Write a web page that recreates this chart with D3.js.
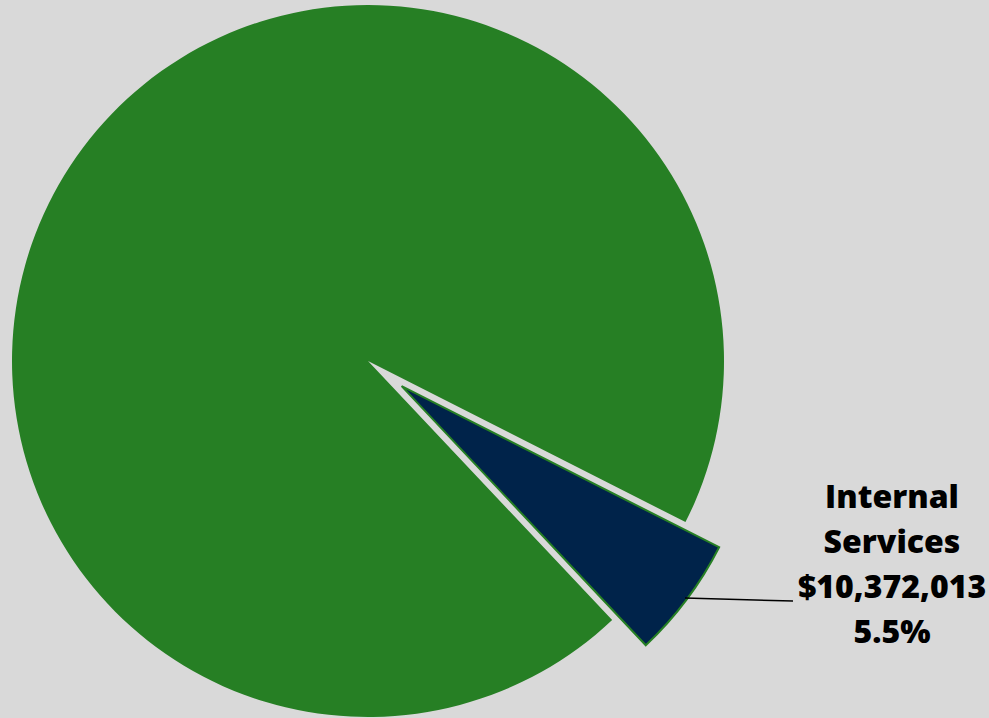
<!DOCTYPE html>
<html>
<head>
<meta charset="utf-8">
<script src="https://cdn.jsdelivr.net/npm/d3@7"></script>
<style>
  html, body { margin: 0; padding: 0; background: #d9d9d9; }
  svg { display: block; }
</style>
</head>
<body>
<div id="container"></div>
<script>
// data
var categories = ["Internal Services", "Other"];
var amounts = [10372013, 178210000];
var sliceColors = ["#00234a", "#267f24"];
var exploded = [true, false];

var width = 989;
var height = 718;
var cx = 368, cy = 361, radius = 356;
var explodeBy = 42;

var svg = d3.select("#container").append("svg")
  .attr("width", width).attr("height", height);

svg.append("rect").attr("width", width).attr("height", height).attr("fill", "#d9d9d9");

var total = d3.sum(amounts);
var data = categories.map(function(c, i) {
  return { name: c, value: amounts[i], color: sliceColors[i], explode: exploded[i] };
});

var start = 116.9 * Math.PI / 180;
var pie = d3.pie()
  .sort(null)
  .value(function(d) { return d.value; })
  .startAngle(start)
  .endAngle(start + 2 * Math.PI);

var arc = d3.arc().innerRadius(0).outerRadius(radius);

var g = svg.append("g").attr("transform", "translate(" + cx + "," + cy + ")");

var arcs = pie(data);

g.selectAll("path")
  .data(arcs).enter().append("path")
  .attr("d", arc)
  .attr("fill", function(d) { return d.data.color; })
  .attr("stroke", "#267f24")
  .attr("stroke-width", function(d) { return d.data.explode ? 2 : 0; })
  .attr("stroke-linejoin", "miter")
  .attr("transform", function(d) {
    if (!d.data.explode) return null;
    var a = (d.startAngle + d.endAngle) / 2;
    return "translate(" + (Math.sin(a) * explodeBy) + "," + (-Math.cos(a) * explodeBy) + ")";
  });

// label for the exploded slice
var fmt = d3.format("$,");
var pct = d3.format(".1%");
var lab = arcs[0];
var labelX = 892;
var lines = ["Internal", "Services", fmt(lab.data.value), pct(lab.data.value / total)];

var text = svg.append("text")
  .attr("text-anchor", "middle")
  .attr("font-family", "'Open Sans', sans-serif")
  .attr("font-weight", 800)
  .attr("font-size", 32)
  .attr("fill", "#000");

lines.forEach(function(s, i) {
  text.append("tspan")
    .attr("x", labelX)
    .attr("y", 508 + i * 45)
    .text(s);
});

// leader line from slice edge to the label
svg.append("line")
  .attr("x1", 685).attr("y1", 598)
  .attr("x2", 793).attr("y2", 601)
  .attr("stroke", "#000")
  .attr("stroke-width", 1.5);
</script>
</body>
</html>
